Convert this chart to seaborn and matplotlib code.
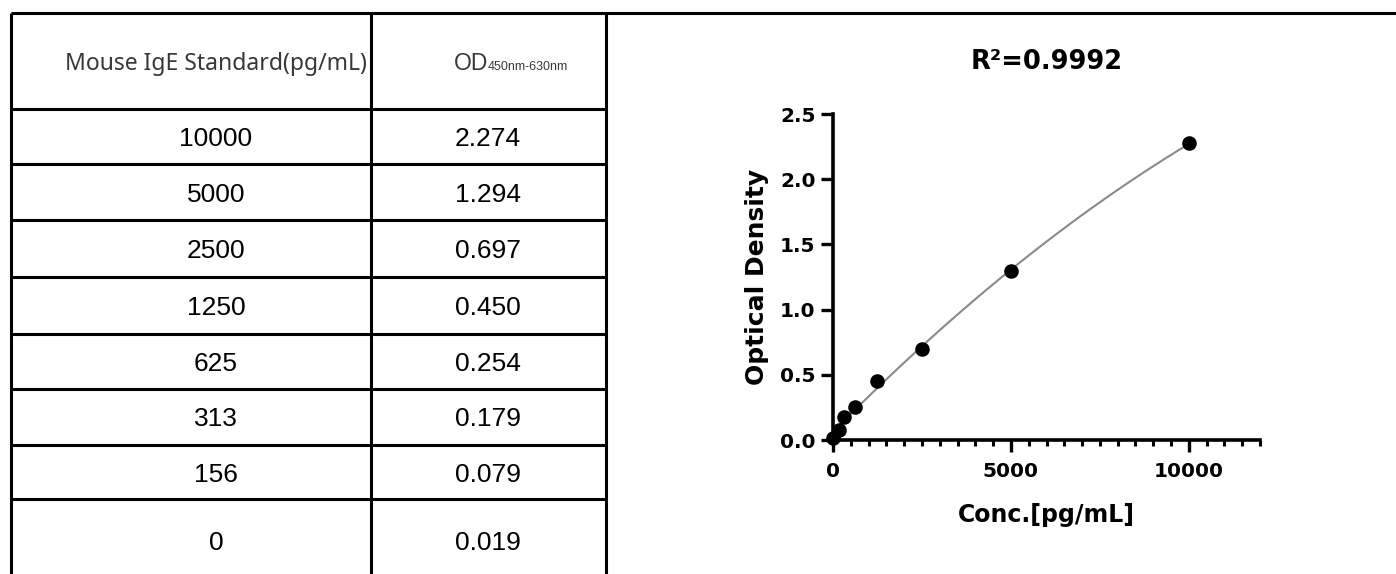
import matplotlib
matplotlib.use("Agg")
import matplotlib.pyplot as plt
import seaborn as sns
from matplotlib.ticker import MultipleLocator

conc = [10000, 5000, 2500, 1250, 625, 313, 156, 0]
od = [2.274, 1.294, 0.697, 0.450, 0.254, 0.179, 0.079, 0.019]
header_conc = "Mouse IgE Standard(pg/mL)"
header_od = "OD"
header_od_sub = "450nm-630nm"
r2_text = "R²=0.9992"
x_ticks = [0, 5000, 10000]
y_ticks = [0.0, 0.5, 1.0, 1.5, 2.0, 2.5]
x_label = "Conc.[pg/mL]"
y_label = "Optical Density"

W, H = 1396, 574

sns.set_style("ticks")
plt.rcParams['font.family'] = ['DejaVu Sans']
plt.rcParams['text.color'] = 'black'
plt.rcParams['axes.labelcolor'] = 'black'

fig = plt.figure(figsize=(W / 100, H / 100), dpi=100)

# --- table, drawn on a pixel overlay ---
tab = fig.add_axes([0, 0, 1, 1])
tab.set_xlim(0, W)
tab.set_ylim(H, 0)
tab.axis('off')
tab.patch.set_alpha(0)

lw = 2.2
tab.hlines(13, 11, W, color='black', lw=lw)
tab.vlines([11, 371, 606], 13, H + 5, color='black', lw=lw)
row_lines = [109, 164, 220, 277, 334, 389, 445, 499]
tab.hlines(row_lines, 11, 606, color='black', lw=lw)

tab.text(216, 70, header_conc, ha='center', va='baseline', fontsize=16.5,
         color='#383838', family=['Noto Sans', 'DejaVu Sans'])
tab.text(454, 70, header_od, ha='left', va='baseline', fontsize=16.5,
         color='#383838', family='Liberation Sans')
tab.text(488, 70, header_od_sub, ha='left', va='baseline', fontsize=9,
         color='#383838', family='Liberation Sans')

row_bounds = row_lines + [581]
for i, (c, v) in enumerate(zip(conc, od)):
    yc = (row_bounds[i] + row_bounds[i + 1]) / 2
    tab.text(216, yc + 9.5, str(c), ha='center', va='baseline', fontsize=19,
             color='black', family='Liberation Sans')
    tab.text(488, yc + 9.5, f"{v:.3f}", ha='center', va='baseline', fontsize=19,
             color='black', family='Liberation Sans')

# --- standard curve ---
ax = fig.add_axes([833 / W, (H - 440) / H, 427 / W, 326 / H])
sns.regplot(x=conc, y=od, order=2, ci=None, scatter=False, truncate=True,
            line_kws=dict(color='#8a8a8a', lw=1.5), ax=ax)
sns.scatterplot(x=conc, y=od, s=110, color='black', edgecolor='black',
                linewidth=0, ax=ax, clip_on=False, zorder=5)

ax.set_xlim(0, 12000)
ax.set_ylim(0, 2.5)
ax.set_xticks(x_ticks)
ax.set_xticklabels([str(t) for t in x_ticks])
ax.xaxis.set_minor_locator(MultipleLocator(500))
ax.set_yticks(y_ticks)
ax.set_yticklabels([f"{t:.1f}" for t in y_ticks])
sns.despine(ax=ax)
for side in ['left', 'bottom']:
    ax.spines[side].set_linewidth(2.6)
    ax.spines[side].set_color('black')

ax.tick_params(axis='both', which='major', length=8.5, width=2.4,
               direction='out', labelsize=14.5, colors='black')
ax.tick_params(axis='x', which='major', pad=7)
ax.tick_params(axis='y', which='major', pad=4)
ax.tick_params(axis='x', which='minor', length=4.5, width=2.2, color='black')
for lbl in ax.get_xticklabels() + ax.get_yticklabels():
    lbl.set_fontweight('bold')

ax.set_xlabel(x_label, fontsize=17, fontweight='bold', va='center')
ax.xaxis.set_label_coords(0.5, (440 - 515) / 326)
ax.set_ylabel(y_label, fontsize=18, fontweight='bold', va='center')
ax.yaxis.set_label_coords((757 - 833) / 427, 0.5)
ax.text(0.5, (440 - 62) / 326, r2_text, transform=ax.transAxes, ha='center',
        va='center', fontsize=18.5, fontweight='bold')

fig.savefig("out.png", dpi=100)
